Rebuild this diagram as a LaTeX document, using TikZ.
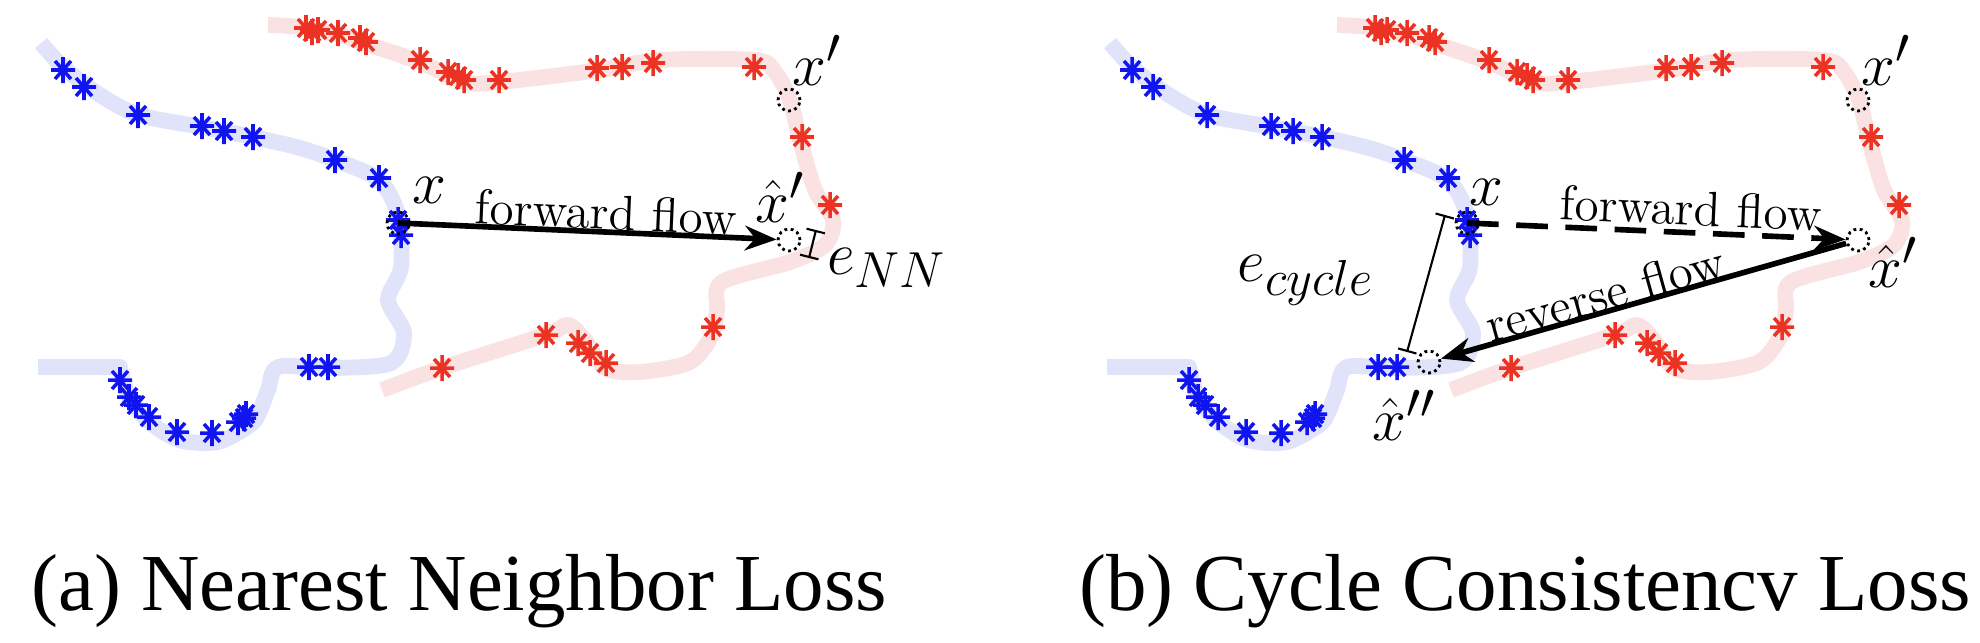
\documentclass[tikz,border=0pt]{standalone}
\usepackage{fontspec}
\newfontfamily\tnr{Liberation Serif}
\usetikzlibrary{arrows.meta}
\definecolor{bl}{RGB}{15,20,240}
\definecolor{rd}{RGB}{235,50,35}
\definecolor{lbl}{RGB}{225,227,250}
\definecolor{lrd}{RGB}{250,226,226}
\begin{document}
\begin{tikzpicture}[x=0.01cm,y=-0.01cm,
  bcurve/.style={lbl,line width=4.5pt,line join=round},
  rcurve/.style={lrd,line width=4.5pt,line join=round},
  bast/.pic={\draw[bl,line width=1pt] (-12,0)--(12,0) (0,-13)--(0,13) (-8,-9)--(8,9) (-8,9)--(8,-9);},
  rast/.pic={\draw[rd,line width=1pt] (-12,0)--(12,0) (0,-13)--(0,13) (-8,-9)--(8,9) (-8,9)--(8,-9);},
  pt/.style={circle,draw,densely dotted,line width=0.8pt,minimum size=22*0.01cm,inner sep=0pt},
  mlab/.style={font=\fontsize{19}{19}\selectfont},
  tlab/.style={font=\fontsize{14}{14}\selectfont},
  captext/.style={font=\tnr\fontsize{23}{23}\selectfont,anchor=base west},
  arr/.style={-{Stealth[length=9pt,width=7pt]},line width=1.6pt},
  bar/.style={|-|,line width=0.6pt}]
\useasboundingbox (0,0) rectangle (1980,642);
\foreach \dx/\p in {0/a,1069/b}{
\begin{scope}[xshift=\dx*0.01cm]
\draw[bcurve] plot[smooth,tension=0.5] coordinates{(41,43)(63,67)(100,95)(139,115)(202,127)(253,137)(300,148)(335,160)(379,180)(398,215)(401,267)(388,300)(404,333)(391,363)(328,368)(278,367)(268,390)(259,413)(250,425)(218,442)(179,440)(147,420)(128,395)(120,367)} -- (38,367);
\draw[rcurve] plot[smooth,tension=0.5] coordinates{(268,25)(300,27)(340,35)(370,45)(420,62)(465,82)(500,82)(600,70)(660,60)(755,60)(775,72)(790,100)(800,140)(815,190)(833,220)(825,245)(790,262)(722,282)(717,310)(712,335)(690,362)(640,372)(605,368)(585,340)(568,325)(545,335)(442,368)(382,390)};
\foreach \q in {(63,70),(84,87),(138,115),(202,126),(224,131),(253,137),(335,160),(379,178),(398,220),(401,235),(309,367),(328,367),(120,380),(129,397),(136,405),(149,417),(177,432),(212,433),(238,422),(244,418),(246,414)}
  \pic at \q {bast};
\foreach \q in {(306,28),(312,32),(318,30),(338,33),(360,38),(366,42),(420,60),(448,72),(458,76),(464,80),(499,80),(597,68),(622,67),(653,63),(754,67),(802,137),(830,205),(713,327),(546,335),(578,343),(590,353),(606,363),(442,368)}
  \pic at \q {rast};
\node[pt] (x\p) at (398,223) {};
\node[pt] (xp\p) at (789,100) {};
\node[pt] (xh\p) at (789,240) {};
\end{scope}}
% panel a
\node[mlab] (lxa) at (429,190) {$x$};
\node[mlab] (lxpa) at (817,60) {$x'$};
\node[mlab] (lxha) at (780,197) {$\hat{x}'$};
\node[mlab] (lenn) at (887,268) {$e_{NN}$};
\draw[arr] (xa.center) -- (xha);
\node[tlab,rotate=-2.5] (ffa) at (606,212) {forward flow};
\coordinate (ea1) at (816,230);
\coordinate (ea2) at (809,258);
\draw[bar] (ea1) -- (ea2);
% panel b
\node[pt] (xhh) at (1429,362) {};
\node[mlab] (lxb) at (1486,192) {$x$};
\node[mlab] (lxpb) at (1886,60) {$x'$};
\node[mlab] (lxhb) at (1893,262) {$\hat{x}'$};
\node[mlab] (lxhh) at (1404,415) {$\hat{x}''$};
\node[mlab] (lec) at (1306,280) {$e_{cycle}$};
\draw[arr,dashed,dash pattern=on 9pt off 5pt] (xb.center) -- (xhb);
\draw[arr] (xhb) -- (xhh);
\node[tlab,rotate=-2.5] (ffb) at (1691,208) {forward flow};
\node[tlab,rotate=15.6] (rfb) at (1605,293) {reverse flow};
\coordinate (eb1) at (1445,215);
\coordinate (eb2) at (1407,352);
\draw[bar] (eb1) -- (eb2);
% captions
\node[captext] (ca) at (19,610) {(a) Nearest Neighbor Loss};
\node[captext] (cb) at (1067,610) {(b) Cycle Consistencv Loss};
\end{tikzpicture}
\end{document}
